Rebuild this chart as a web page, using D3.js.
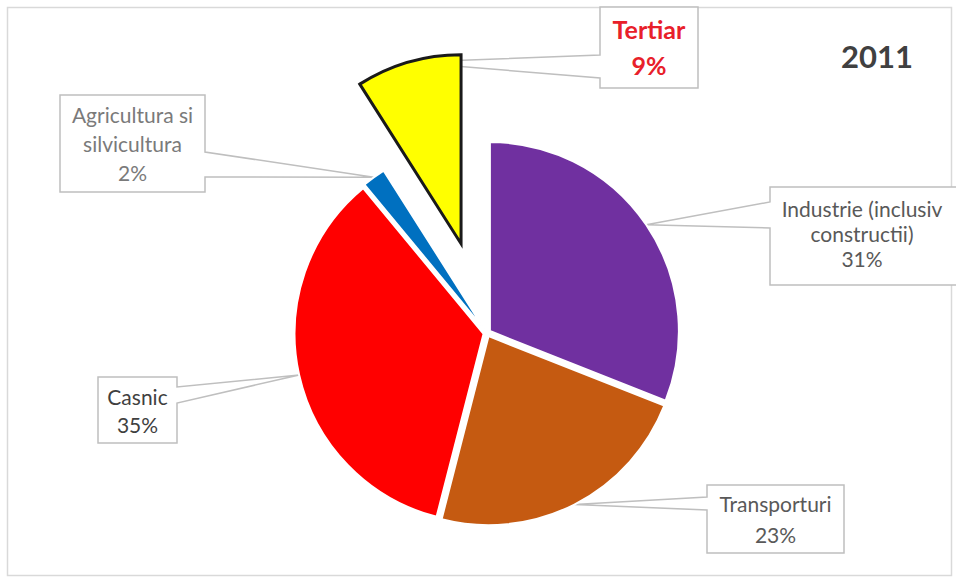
<!DOCTYPE html>
<html>
<head>
<meta charset="utf-8">
<script src="https://cdn.jsdelivr.net/npm/d3@7"></script>
<style>
  html, body { margin: 0; padding: 0; background: #fff; }
  svg { display: block; font-family: Lato, "Open Sans", sans-serif; }
</style>
</head>
<body>
<svg id="chart" width="956" height="580"></svg>
<script>
// Energy consumption by sector, 2011
const year = "2011";
const categories = ["Industrie (inclusiv constructii)", "Transporturi", "Casnic", "Agricultura si silvicultura", "Tertiar"];
const labelLines = [["Industrie (inclusiv", "constructii)"], ["Transporturi"], ["Casnic"], ["Agricultura si", "silvicultura"], ["Tertiar"]];
const shares = [31, 23, 35, 2, 9];
const colors = ["#7030a0", "#c55a11", "#ff0000", "#0070c0", "#ffff00"];

// Layout
const W = 956, H = 580;
const cx = 487, cy = 333, R = 189;
const explode = [3.5, 3.5, 3.5, 3.5, 93];
const callouts = [
  { box: [770, 187, 960, 285], side: "left",  base: [202, 228], y0: 217, gap: 25, fill: "#595959", size: 21, weight: 400 },
  { box: [707, 485, 844, 553], side: "left",  base: [497, 510], y0: 512, gap: 31, fill: "#595959", size: 21, weight: 400 },
  { box: [98, 377, 177, 443],  side: "right", base: [387, 403], y0: 405, gap: 28, fill: "#3f3f3f", size: 21, weight: 400 },
  { box: [60, 95, 205, 192],   side: "right", base: [152, 177], y0: 123, gap: 29, fill: "#7a7a7a", size: 21, weight: 400 },
  { box: [600, 7, 698, 88],    side: "left",  base: [55, 78],   y0: 39,  gap: 36, fill: "#e8202a", size: 25, weight: 700 }
];

const svg = d3.select("#chart");
svg.append("rect").attr("width", W).attr("height", H).attr("fill", "#fff");
svg.append("rect")
  .attr("x", 7.5).attr("y", 7.5).attr("width", 944).attr("height", 568)
  .attr("fill", "none").attr("stroke", "#d9d9d9").attr("stroke-width", 1.5);

const pie = d3.pie().sort(null).value(d => d)(shares);
const arc = d3.arc().innerRadius(0).outerRadius(R);

// slice offset along its mid angle
function offset(d, i) {
  const a = (d.startAngle + d.endAngle) / 2;
  return [cx + explode[i] * Math.sin(a), cy - explode[i] * Math.cos(a)];
}

// callout boxes with a pointer wedge toward the slice rim
const calloutLayer = svg.append("g");
pie.forEach((d, i) => {
  const c = callouts[i];
  const [ox, oy] = offset(d, i);
  const a = (d.startAngle + d.endAngle) / 2;
  const tip = [ox + R * Math.sin(a), oy - R * Math.cos(a)];
  const [x0, y0, x1, y1] = c.box;
  const p = d3.path();
  if (c.side === "left") {
    p.moveTo(x0, y0); p.lineTo(x1, y0); p.lineTo(x1, y1); p.lineTo(x0, y1);
    p.lineTo(x0, c.base[1]); p.lineTo(tip[0], tip[1]); p.lineTo(x0, c.base[0]);
    p.closePath();
  } else {
    p.moveTo(x0, y0); p.lineTo(x1, y0); p.lineTo(x1, c.base[0]); p.lineTo(tip[0], tip[1]);
    p.lineTo(x1, c.base[1]); p.lineTo(x1, y1); p.lineTo(x0, y1);
    p.closePath();
  }
  calloutLayer.append("path").attr("d", p.toString())
    .attr("fill", "#fff").attr("stroke", "#bfbfbf").attr("stroke-width", 1.5)
    .attr("stroke-linejoin", "miter");
  const lines = labelLines[i].concat([shares[i] + "%"]);
  const tx = (x0 + Math.min(x1, W)) / 2 + (i === 0 ? -1 : 0);
  const t = calloutLayer.append("text")
    .attr("text-anchor", "middle")
    .attr("fill", c.fill)
    .attr("font-size", c.size)
    .attr("font-weight", c.weight);
  lines.forEach((s, k) => {
    t.append("tspan").attr("x", tx).attr("y", c.y0 + k * c.gap).text(s);
  });
});

// slices
svg.append("g").selectAll("path")
  .data(pie)
  .join("path")
  .attr("transform", (d, i) => `translate(${offset(d, i)})`)
  .attr("d", arc)
  .attr("fill", (d, i) => colors[i])
  .attr("stroke", (d, i) => i === 4 ? "#1a1a1a" : "#fff")
  .attr("stroke-width", (d, i) => i === 4 ? 3 : 2)
  .attr("stroke-linejoin", "miter");

// year
svg.append("text")
  .attr("x", 877).attr("y", 68)
  .attr("text-anchor", "middle")
  .attr("font-size", 31).attr("font-weight", 700)
  .attr("fill", "#404040")
  .text(year);
</script>
</body>
</html>
